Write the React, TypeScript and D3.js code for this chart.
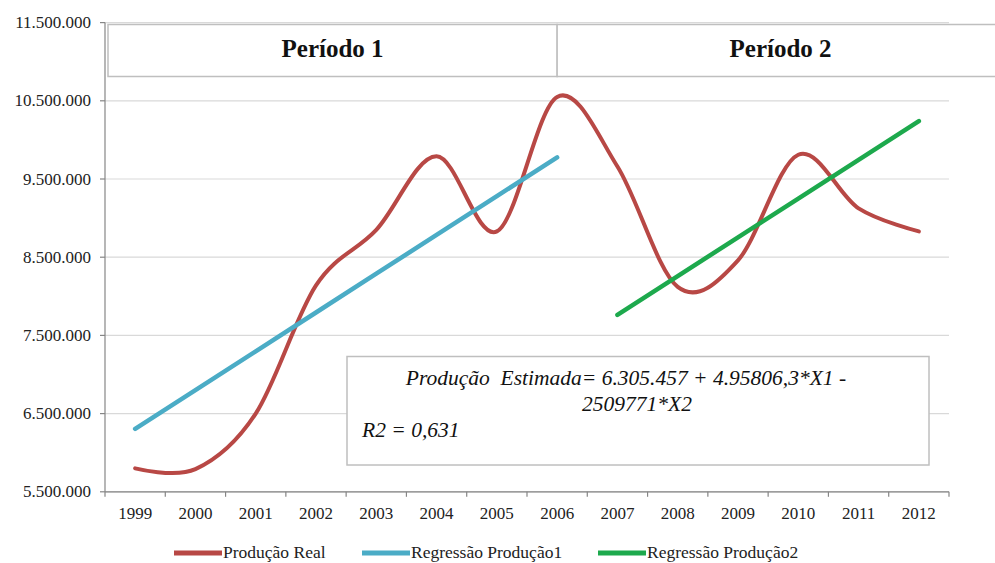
import * as d3 from 'd3';

// categories
const years = ['1999', '2000', '2001', '2002', '2003', '2004', '2005', '2006', '2007', '2008', '2009', '2010', '2011', '2012'];

// series values
const producaoReal = [5800000, 5790000, 6500000, 8140000, 8850000, 9790000, 8830000, 10550000, 9660000, 8120000, 8460000, 9810000, 9125000, 8830000];
const regressao1Years = ['1999', '2000', '2001', '2002', '2003', '2004', '2005', '2006'];
const regressao1 = [6305000, 6801000, 7297000, 7793000, 8289000, 8785000, 9281000, 9776000];
const regressao2Years = ['2007', '2008', '2009', '2010', '2011', '2012'];
const regressao2 = [7762000, 8258000, 8754000, 9250000, 9745000, 10241000];

// y tick values
const yTicks = [5500000, 6500000, 7500000, 8500000, 9500000, 10500000, 11500000];

const periodos = [
  { label: 'Período 1', from: '1999', to: '2006' },
  { label: 'Período 2', from: '2006', to: null },
];

const legendItems = [
  { label: 'Produção Real', color: '#B84845', x: 174 },
  { label: 'Regressão Produção1', color: '#4BACC6', x: 362 },
  { label: 'Regressão Produção2', color: '#1DA94D', x: 598 },
];

const font = "'Liberation Serif', 'Times New Roman', Times, 'DejaVu Serif', serif";

const locale = d3.formatLocale({ decimal: ',', thousands: '.', grouping: [3], currency: ['', ''] });
const fmt = locale.format(',.0f');

export default function App() {
  const width = 995;
  const height = 563;
  const left = 105;
  const right = 949;
  const top = 22.6;
  const bottom = 491.8;

  const x = d3.scaleBand<string>().domain(years).range([left, right]).padding(0);
  const cx = (yr: string) => (x(yr) as number) + x.bandwidth() / 2;
  const y = d3.scaleLinear().domain([5500000, 11500000]).range([bottom, top]);

  const smooth = d3
    .line<number>()
    .x((_, i) => cx(years[i]))
    .y((d) => y(d))
    .curve(d3.curveCardinal.tension(0));

  const straight = (ys: string[]) =>
    d3
      .line<number>()
      .x((_, i) => cx(ys[i]))
      .y((d) => y(d));

  const axisColor = '#868686';
  const gridColor = '#D9D9D9';

  return (
    <svg width={width} height={height} style={{ position: 'absolute', left: 0, top: 0, background: '#fff', fontFamily: font }}>
      {/* gridlines */}
      {yTicks.map((t) => (
        <line key={t} x1={left} x2={right} y1={y(t)} y2={y(t)} stroke={gridColor} strokeWidth={1.2} />
      ))}

      {/* period header boxes */}
      {periodos.map((p) => {
        const x0 = p.from === '1999' ? left + 3 : cx(p.from);
        const x1 = p.to ? cx(p.to) : 1004;
        return (
          <g key={p.label}>
            <rect x={x0} y={24.5} width={x1 - x0} height={52} fill="#fff" stroke="#BFBFBF" strokeWidth={1.5} />
            <text x={(x0 + x1) / 2} y={57} textAnchor="middle" style={{ fontFamily: font, fontWeight: 'bold', fontSize: 25 }} fill="#111">
              {p.label}
            </text>
          </g>
        );
      })}

      {/* axes */}
      <line x1={left} x2={left} y1={top} y2={bottom} stroke={axisColor} strokeWidth={1.2} />
      <line x1={left} x2={right} y1={bottom} y2={bottom} stroke={axisColor} strokeWidth={1.2} />
      {yTicks.map((t) => (
        <g key={t}>
          <line x1={left - 5} x2={left} y1={y(t)} y2={y(t)} stroke={axisColor} strokeWidth={1.2} />
          <text x={91} y={y(t) + 5.5} textAnchor="end" style={{ fontFamily: font, fontSize: 17 }} fill="#222">
            {fmt(t)}
          </text>
        </g>
      ))}
      {[...years.map((yr) => x(yr) as number), right].map((v, i) => (
        <line key={i} x1={v} x2={v} y1={bottom} y2={bottom + 5} stroke={axisColor} strokeWidth={1.2} />
      ))}
      {years.map((yr) => (
        <text key={yr} x={cx(yr)} y={519} textAnchor="middle" style={{ fontFamily: font, fontSize: 17 }} fill="#222">
          {yr}
        </text>
      ))}

      {/* series */}
      <path d={smooth(producaoReal) as string} fill="none" stroke="#B84845" strokeWidth={4} strokeLinecap="round" strokeLinejoin="round" />
      <path d={straight(regressao1Years)(regressao1) as string} fill="none" stroke="#4BACC6" strokeWidth={4.5} strokeLinecap="round" />
      <path d={straight(regressao2Years)(regressao2) as string} fill="none" stroke="#1DA94D" strokeWidth={4.5} strokeLinecap="round" />

      {/* equation box */}
      <rect x={347} y={356.5} width={582} height={108.5} fill="#fff" stroke="#BFBFBF" strokeWidth={1.5} />
      <g style={{ fontFamily: font, fontStyle: 'italic', fontSize: 21.5 }} fill="#111">
        <text x={626} y={385} textAnchor="middle" style={{ whiteSpace: 'pre' }}>
          {'Produção  Estimada= 6.305.457 + 4.95806,3*X1 -'}
        </text>
        <text x={637} y={411} textAnchor="middle">
          2509771*X2
        </text>
        <text x={362} y={437}>
          R2 = 0,631
        </text>
      </g>

      {/* legend */}
      {legendItems.map((l) => (
        <g key={l.label}>
          <line x1={l.x} x2={l.x + 48} y1={553} y2={553} stroke={l.color} strokeWidth={5} />
          <text x={l.x + 49} y={558} style={{ fontFamily: font, fontSize: 17.5 }} fill="#222">
            {l.label}
          </text>
        </g>
      ))}
    </svg>
  );
}
